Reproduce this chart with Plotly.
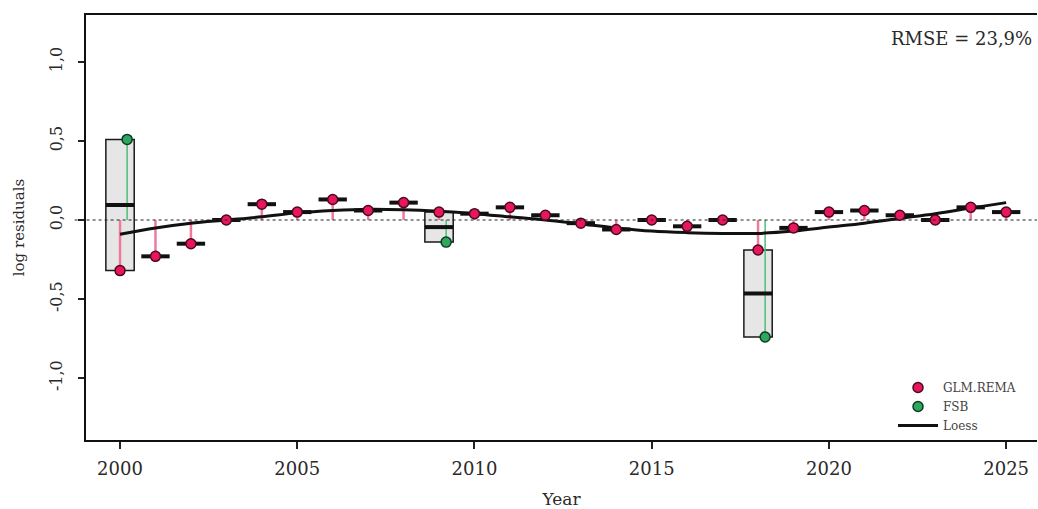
import plotly.graph_objects as go
import numpy as np

# ---------------- data ----------------
years = list(range(2000, 2026))
glm_rema = [-0.32, -0.23, -0.15, 0.00, 0.10, 0.05, 0.13, 0.06, 0.11, 0.05,
            0.04, 0.08, 0.03, -0.02, -0.06, 0.00, -0.04, 0.00, -0.19, -0.05,
            0.05, 0.06, 0.03, 0.00, 0.08, 0.05]
fsb_years = [2000, 2009, 2018]
fsb = [0.51, -0.14, -0.74]
loess_years = list(range(2000, 2026))
loess_vals = [-0.09, -0.05, -0.02, 0.00, 0.02, 0.045, 0.06, 0.068, 0.065, 0.055,
              0.04, 0.02, 0.00, -0.025, -0.05, -0.07, -0.08, -0.085, -0.085, -0.07,
              -0.045, -0.02, 0.01, 0.04, 0.075, 0.11]
rmse_label = "RMSE = 23,9%"
x_ticks = [2000, 2005, 2010, 2015, 2020, 2025]
y_ticks = [-1.0, -0.5, 0.0, 0.5, 1.0]
y_ticktext = ["-1,0", "-0,5", "0,0", "0,5", "1,0"]

PINK = "#E8175D"
PINK_STEM = "#F07A9C"
PINK_EDGE = "#4a0a1c"
GREEN = "#2EA85E"
GREEN_STEM = "#4CBF78"
GREEN_EDGE = "#0f3a20"
FONT = "DejaVu Serif"
TXT = "#2a2a2a"
BOX_W = 0.8
DODGE = 0.2

fig = go.Figure()

# per-year value groups
groups = {y: [v] for y, v in zip(years, glm_rema)}
for y, v in zip(fsb_years, fsb):
    groups[y].append(v)

# boxes for years with several values
bx, q1, med, q3 = [], [], [], []
for y in years:
    vals = groups[y]
    if len(vals) > 1:
        bx.append(y)
        q1.append(min(vals))
        q3.append(max(vals))
        med.append(float(np.median(vals)))
fig.add_trace(go.Box(x=bx, q1=q1, median=med, q3=q3, lowerfence=q1, upperfence=q3,
                     width=BOX_W, fillcolor="#e6e6e6",
                     line=dict(color="#1a1a1a", width=1.5),
                     showlegend=False, hoverinfo="skip", boxpoints=False))

# pink stems
sx, sy = [], []
for y, v in zip(years, glm_rema):
    sx += [y, y, None]
    sy += [0, v, None]
fig.add_trace(go.Scatter(x=sx, y=sy, mode="lines", line=dict(color=PINK_STEM, width=2.5),
                         showlegend=False, hoverinfo="skip"))
# green stems
gx, gy = [], []
for y, v in zip(fsb_years, fsb):
    gx += [y + DODGE, y + DODGE, None]
    gy += [0, v, None]
fig.add_trace(go.Scatter(x=gx, y=gy, mode="lines", line=dict(color=GREEN_STEM, width=1.5),
                         showlegend=False, hoverinfo="skip"))

# median bars
mx, my = [], []
for y in years:
    m = float(np.median(groups[y]))
    mx += [y - BOX_W / 2, y + BOX_W / 2, None]
    my += [m, m, None]
fig.add_trace(go.Scatter(x=mx, y=my, mode="lines", line=dict(color="#111111", width=4),
                         showlegend=False, hoverinfo="skip"))

# loess
fig.add_trace(go.Scatter(x=loess_years, y=loess_vals, mode="lines", name="Loess",
                         line=dict(color="#111111", width=3, shape="spline", smoothing=1.0),
                         legendrank=3))

# markers
fig.add_trace(go.Scatter(x=years, y=glm_rema, mode="markers", name="GLM.REMA",
                         marker=dict(color=PINK, size=10, line=dict(color=PINK_EDGE, width=1.5)),
                         legendrank=1))
fig.add_trace(go.Scatter(x=[y + DODGE for y in fsb_years], y=fsb, mode="markers", name="FSB",
                         marker=dict(color=GREEN, size=10, line=dict(color=GREEN_EDGE, width=1.5)),
                         legendrank=2))

# zero reference line
fig.add_shape(type="line", xref="paper", yref="y", x0=-0.012, x1=1, y0=0, y1=0,
              line=dict(color="#222222", width=1.2, dash="dot"))

fig.add_annotation(text=rmse_label, xref="paper", yref="paper", x=0.997, y=0.945,
                   xanchor="right", yanchor="middle", showarrow=False,
                   font=dict(family=FONT, size=18, color=TXT))

fig.update_layout(
    width=1038, height=509,
    margin=dict(l=86, r=1, t=15, b=69),
    paper_bgcolor="white", plot_bgcolor="white",
    font=dict(family=FONT, color=TXT),
    showlegend=True,
    legend=dict(x=0.8486, y=0.0, xanchor="left", yanchor="bottom",
                bgcolor="rgba(0,0,0,0)", font=dict(family=FONT, size=12, color="#444444"),
                itemwidth=40, tracegroupgap=0, traceorder="normal"),
    xaxis=dict(range=[1999.04, 2025.87], tickvals=x_ticks, ticks="outside", ticklen=7,
               tickwidth=1.5, tickcolor="#222222", showgrid=False, zeroline=False,
               showline=True, linecolor="#111111", linewidth=2, mirror=True,
               automargin=False, ticklabelstandoff=4,
               tickfont=dict(family=FONT, size=18, color=TXT),
               title=dict(text="Year", font=dict(family=FONT, size=17, color=TXT), standoff=22)),
    yaxis=dict(range=[-1.392, 1.297], tickvals=y_ticks, ticktext=y_ticktext, tickangle=-90,
               ticks="outside", ticklen=6, tickwidth=1.5, tickcolor="#222222",
               showgrid=False, zeroline=False, showline=True, linecolor="#111111",
               linewidth=2, mirror=False, automargin=False, ticklabelstandoff=10,
               tickfont=dict(family=FONT, size=16, color=TXT),
               title=dict(text="log residuals", font=dict(family=FONT, size=15, color=TXT),
                          standoff=18)),
)

fig.write_html("out.html", config={"displayModeBar": False},
               post_script="document.body.style.margin='0';")
